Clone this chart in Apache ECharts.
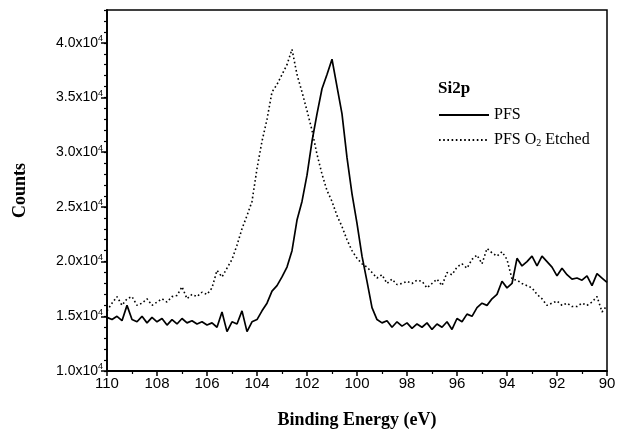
<!DOCTYPE html>
<html>
<head>
<meta charset="utf-8">
<script src="https://cdn.jsdelivr.net/npm/echarts@6/dist/echarts.min.js"></script>
<style>
  html, body { margin: 0; padding: 0; background: #fff; }
  #chart { width: 619px; height: 429px; }
</style>
</head>
<body>
<div id="chart"></div>
<script>
// binding energy grid, eV (110 -> 90, 0.2 eV step)
const energyStart = 110
const energyStep = 0.2

// counts in units of 10^4
const pfs = [
  1.49, 1.47, 1.50, 1.46, 1.60, 1.47, 1.45, 1.50, 1.44, 1.49,
  1.45, 1.48, 1.42, 1.47, 1.43, 1.48, 1.44, 1.46, 1.43, 1.45,
  1.42, 1.44, 1.40, 1.54, 1.36, 1.45, 1.43, 1.55, 1.36, 1.45,
  1.47, 1.55, 1.62, 1.73, 1.78, 1.86, 1.95, 2.10, 2.38, 2.55,
  2.79, 3.10, 3.35, 3.58, 3.71, 3.85, 3.60, 3.35, 2.95, 2.62,
  2.35, 2.05, 1.82, 1.58, 1.47, 1.44, 1.46, 1.40, 1.45, 1.41,
  1.44, 1.39, 1.43, 1.40, 1.44, 1.38, 1.43, 1.40, 1.45, 1.38,
  1.48, 1.45, 1.52, 1.50, 1.58, 1.62, 1.60, 1.66, 1.70, 1.82,
  1.76, 1.80, 2.03, 1.96, 2.00, 2.05, 1.96, 2.05, 2.00, 1.95,
  1.87, 1.94, 1.88, 1.84, 1.85, 1.83, 1.87, 1.78, 1.89, 1.85,
  1.81
]

const pfsEtched = [
  1.55, 1.62, 1.68, 1.60, 1.66, 1.68, 1.60, 1.62, 1.66, 1.60,
  1.63, 1.66, 1.63, 1.68, 1.69, 1.77, 1.66, 1.70, 1.68, 1.72,
  1.70, 1.76, 1.92, 1.86, 1.94, 2.02, 2.15, 2.30, 2.42, 2.55,
  2.85, 3.10, 3.30, 3.55, 3.62, 3.71, 3.80, 3.94, 3.71, 3.55,
  3.38, 3.20, 2.98, 2.80, 2.65, 2.55, 2.42, 2.32, 2.20, 2.10,
  2.03, 1.98, 1.95, 1.90, 1.85, 1.88, 1.80, 1.84, 1.79, 1.80,
  1.82, 1.80, 1.83, 1.82, 1.76, 1.80, 1.84, 1.78, 1.90, 1.88,
  1.95, 1.98, 1.94, 2.02, 2.06, 1.98, 2.12, 2.08, 2.05, 2.09,
  2.02, 1.84, 1.83, 1.80, 1.78, 1.76, 1.70, 1.66, 1.60, 1.62,
  1.64, 1.60, 1.62, 1.59, 1.59, 1.62, 1.60, 1.63, 1.68, 1.54,
  1.60
]

const xTicks = [110, 108, 106, 104, 102, 100, 98, 96, 94, 92, 90]
const yTicks = [1.0, 1.5, 2.0, 2.5, 3.0, 3.5, 4.0]

const energy = pfs.map((_, i) => +(energyStart - i * energyStep).toFixed(1))
const toPairs = (arr) => arr.map((v, i) => [energy[i], v])

const serif = "'Liberation Serif', 'Times New Roman', serif"
const sans = "'Liberation Sans', Arial, sans-serif"

const myE = echarts.init(document.getElementById("chart"))
let option = {
  animation: false,
  backgroundColor: "#fff",
  title: {
    text: "Si2p",
    left: 433,
    top: 75,
    textStyle: { fontFamily: serif, fontWeight: "bold", fontSize: 17, color: "#000" },
  },
  legend: {
    orient: "vertical",
    left: 433,
    top: 102,
    itemWidth: 50,
    itemHeight: 12,
    itemGap: 9,
    data: ["PFS", "PFS O2 Etched"],
    itemStyle: { opacity: 0 },
    formatter: (name) => (name === "PFS O2 Etched" ? "PFS O{sub|2} Etched" : name),
    textStyle: {
      fontFamily: serif,
      fontSize: 16,
      color: "#000",
      rich: {
        sub: { fontFamily: serif, fontSize: 10, verticalAlign: "bottom", padding: [6, 0, 0, 0] },
      },
    },
  },
  grid: {
    left: 107,
    right: 12,
    top: 10,
    bottom: 58,
    show: true,
    borderColor: "#000",
    borderWidth: 1.5,
    outerBoundsMode: "none",
  },
  xAxis: {
    type: "value",
    inverse: true,
    min: 90,
    max: 110,
    interval: 2,
    name: "Binding Energy (eV)",
    nameLocation: "middle",
    nameGap: 40,
    nameTextStyle: { fontFamily: serif, fontWeight: "bold", fontSize: 18, color: "#000" },
    axisLine: { lineStyle: { color: "#000", width: 1.8 } },
    axisTick: { length: 5, lineStyle: { color: "#000", width: 1.5 } },
    minorTick: { show: true, splitNumber: 2, length: 3, lineStyle: { color: "#000", width: 1.2 } },
    splitLine: { show: false },
    axisLabel: {
      margin: 5,
      fontFamily: sans,
      fontSize: 15,
      color: "#000",
      formatter: (v) => (xTicks.includes(v) ? String(v) : ""),
    },
  },
  yAxis: [
    {
      type: "value",
      min: 1.0,
      max: 4.3,
      interval: 0.5,
      name: "Counts",
      nameLocation: "middle",
      nameGap: 78,
      nameTextStyle: { fontFamily: serif, fontWeight: "bold", fontSize: 18, color: "#000" },
      axisLine: { lineStyle: { color: "#000", width: 1.8 } },
      axisTick: { length: 6, lineStyle: { color: "#000", width: 1.5 } },
      splitLine: { show: false },
      axisLabel: {
        showMaxLabel: false,
        margin: 4,
        color: "#000",
        formatter: (v) => {
          const t = yTicks.find((k) => Math.abs(k - v) < 1e-6)
          return t === undefined ? "" : "{b|" + t.toFixed(1) + "x10}{s|4}"
        },
        rich: {
          b: { fontFamily: sans, fontSize: 14, lineHeight: 17, color: "#000" },
          s: { fontFamily: sans, fontSize: 9, lineHeight: 9, verticalAlign: "top", color: "#000" },
        },
      },
    },
    {
      // minor ticks every 0.1x10^4
      type: "value",
      position: "left",
      min: 1.0,
      max: 4.3,
      interval: 0.1,
      axisLine: { show: false },
      axisTick: { length: 3, lineStyle: { color: "#000", width: 1.2 } },
      axisLabel: { show: false },
      splitLine: { show: false },
    },
  ],
  series: [
    {
      name: "PFS",
      type: "line",
      symbol: "none",
      yAxisIndex: 0,
      lineStyle: { color: "#000", width: 1.7 },
      itemStyle: { color: "#000" },
      data: toPairs(pfs),
    },
    {
      name: "PFS O2 Etched",
      type: "line",
      symbol: "none",
      yAxisIndex: 0,
      lineStyle: { color: "#000", width: 1.6, type: [1.6, 2.6] },
      itemStyle: { color: "#000" },
      data: toPairs(pfsEtched),
    },
  ],
}
myE.setOption(option)
</script>
</body>
</html>
